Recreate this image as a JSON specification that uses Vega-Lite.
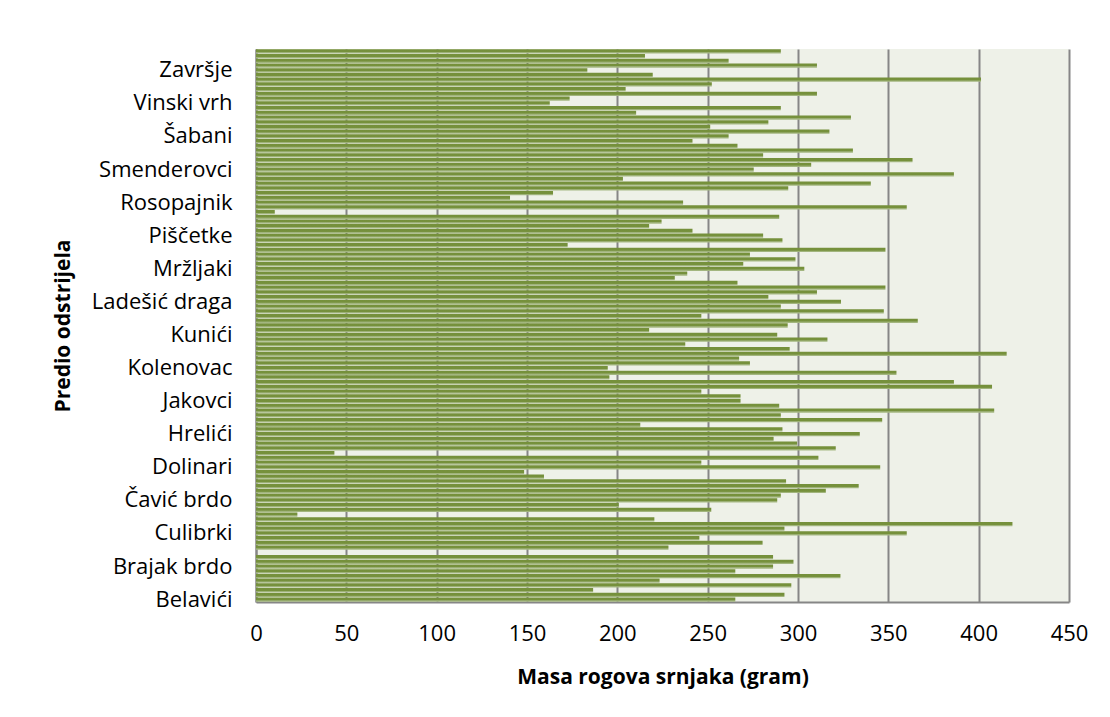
{
  "$schema": "https://vega.github.io/schema/vega-lite/v6.json",
  "autosize": {"type": "none"},
  "padding": {"left": 256, "top": 49, "right": 41, "bottom": 116},
  "width": 813,
  "height": 553,
  "background": "#ffffff",
  "config": {
    "view": {"stroke": null, "fill": "#eef1e8"},
    "font": "Open Sans"
  },
  "data": {
    "values": [
      {"n": 0, "predio": "Belavići", "masa": 265.3},
      {"n": 1, "masa": 292.5},
      {"n": 2, "masa": 186.6},
      {"n": 3, "masa": 296.3},
      {"n": 4, "masa": 223.4},
      {"n": 5, "masa": 323.5},
      {"n": 6, "masa": 265.3},
      {"n": 7, "predio": "Brajak brdo", "masa": 286.2},
      {"n": 8, "masa": 297.5},
      {"n": 9, "masa": 286.2},
      {"n": 10, "masa": 0},
      {"n": 11, "masa": 228.3},
      {"n": 12, "masa": 280.4},
      {"n": 13, "masa": 245.4},
      {"n": 14, "predio": "Culibrki", "masa": 360.2},
      {"n": 15, "masa": 292.5},
      {"n": 16, "masa": 418.7},
      {"n": 17, "masa": 220.5},
      {"n": 18, "masa": 22.9},
      {"n": 19, "masa": 252.0},
      {"n": 20, "masa": 200.8},
      {"n": 21, "predio": "Čavić brdo", "masa": 288.5},
      {"n": 22, "masa": 290.5},
      {"n": 23, "masa": 315.4},
      {"n": 24, "masa": 333.6},
      {"n": 25, "masa": 293.4},
      {"n": 26, "masa": 159.4},
      {"n": 27, "masa": 148.4},
      {"n": 28, "predio": "Dolinari", "masa": 345.5},
      {"n": 29, "masa": 246.5},
      {"n": 30, "masa": 311.3},
      {"n": 31, "masa": 43.4},
      {"n": 32, "masa": 320.9},
      {"n": 33, "masa": 299.5},
      {"n": 34, "masa": 286.5},
      {"n": 35, "predio": "Hrelići", "masa": 334.2},
      {"n": 36, "masa": 291.4},
      {"n": 37, "masa": 212.7},
      {"n": 38, "masa": 346.6},
      {"n": 39, "masa": 290.5},
      {"n": 40, "masa": 408.6},
      {"n": 41, "masa": 289.6},
      {"n": 42, "predio": "Jakovci", "masa": 268.2},
      {"n": 43, "masa": 268.2},
      {"n": 44, "masa": 246.5},
      {"n": 45, "masa": 407.4},
      {"n": 46, "masa": 386.3},
      {"n": 47, "masa": 195.6},
      {"n": 48, "masa": 354.5},
      {"n": 49, "predio": "Kolenovac", "masa": 194.7},
      {"n": 50, "masa": 273.4},
      {"n": 51, "masa": 267.4},
      {"n": 52, "masa": 415.5},
      {"n": 53, "masa": 295.4},
      {"n": 54, "masa": 237.6},
      {"n": 55, "masa": 316.3},
      {"n": 56, "predio": "Kunići", "masa": 288.5},
      {"n": 57, "masa": 217.6},
      {"n": 58, "masa": 294.3},
      {"n": 59, "masa": 366.3},
      {"n": 60, "masa": 246.5},
      {"n": 61, "masa": 347.5},
      {"n": 62, "masa": 290.5},
      {"n": 63, "predio": "Ladešić draga", "masa": 323.8},
      {"n": 64, "masa": 283.6},
      {"n": 65, "masa": 310.5},
      {"n": 66, "masa": 348.4},
      {"n": 67, "masa": 266.5},
      {"n": 68, "masa": 231.8},
      {"n": 69, "masa": 238.7},
      {"n": 70, "predio": "Mržljaki", "masa": 303.5},
      {"n": 71, "masa": 269.7},
      {"n": 72, "masa": 298.6},
      {"n": 73, "masa": 273.4},
      {"n": 74, "masa": 348.4},
      {"n": 75, "masa": 172.5},
      {"n": 76, "masa": 291.4},
      {"n": 77, "predio": "Piščetke", "masa": 280.7},
      {"n": 78, "masa": 241.6},
      {"n": 79, "masa": 217.6},
      {"n": 80, "masa": 224.5},
      {"n": 81, "masa": 289.6},
      {"n": 82, "masa": 10.4},
      {"n": 83, "masa": 360.2},
      {"n": 84, "predio": "Rosopajnik", "masa": 236.4},
      {"n": 85, "masa": 140.6},
      {"n": 86, "masa": 164.4},
      {"n": 87, "masa": 294.6},
      {"n": 88, "masa": 340.3},
      {"n": 89, "masa": 203.1},
      {"n": 90, "masa": 386.3},
      {"n": 91, "predio": "Smenderovci", "masa": 275.5},
      {"n": 92, "masa": 307.3},
      {"n": 93, "masa": 363.4},
      {"n": 94, "masa": 280.7},
      {"n": 95, "masa": 330.4},
      {"n": 96, "masa": 266.5},
      {"n": 97, "masa": 241.6},
      {"n": 98, "predio": "Šabani", "masa": 261.6},
      {"n": 99, "masa": 317.4},
      {"n": 100, "masa": 251.4},
      {"n": 101, "masa": 283.6},
      {"n": 102, "masa": 329.3},
      {"n": 103, "masa": 210.4},
      {"n": 104, "masa": 290.5},
      {"n": 105, "predio": "Vinski vrh", "masa": 162.6},
      {"n": 106, "masa": 173.6},
      {"n": 107, "masa": 310.5},
      {"n": 108, "masa": 204.6},
      {"n": 109, "masa": 252.3},
      {"n": 110, "masa": 401.3},
      {"n": 111, "masa": 219.6},
      {"n": 112, "predio": "Završje", "masa": 183.4},
      {"n": 113, "masa": 310.5},
      {"n": 114, "masa": 261.6},
      {"n": 115, "masa": 215.3},
      {"n": 116, "masa": 290.5}
    ]
  },
  "mark": {
    "type": "bar",
    "color": {
      "gradient": "linear",
      "x1": 0, "y1": 0, "x2": 0, "y2": 1,
      "stops": [
        {"offset": 0, "color": "#75903b"},
        {"offset": 0.62, "color": "#76913c"},
        {"offset": 0.72, "color": "#9aae73"},
        {"offset": 1, "color": "#a7ba85"}
      ]
    }
  },
  "encoding": {
    "y": {
      "field": "n",
      "type": "ordinal",
      "sort": "descending",
      "scale": {"paddingInner": 0.1, "paddingOuter": 0.05},
      "title": "Predio odstrijela",
      "axis": {
        "values": [0, 7, 14, 21, 28, 35, 42, 49, 56, 63, 70, 77, 84, 91, 98, 105, 112],
        "labelExpr": "['Belavići','Brajak brdo','Culibrki','Čavić brdo','Dolinari','Hrelići','Jakovci','Kolenovac','Kunići','Ladešić draga','Mržljaki','Piščetke','Rosopajnik','Smenderovci','Šabani','Vinski vrh','Završje'][floor(datum.value / 7)]",
        "labelFont": "Open Sans",
        "labelFontSize": 22,
        "labelColor": "#000000",
        "labelPadding": 24,
        "ticks": false,
        "domainColor": "#868686",
        "domainWidth": 2,
        "grid": false,
        "titleFont": "Open Sans",
        "titleFontSize": 21,
        "titleFontWeight": "bold",
        "titleColor": "#000000",
        "titlePadding": 18
      }
    },
    "x": {
      "field": "masa",
      "type": "quantitative",
      "scale": {"domain": [0, 450], "nice": false},
      "title": "Masa rogova srnjaka (gram)",
      "axis": {
        "values": [0, 50, 100, 150, 200, 250, 300, 350, 400, 450],
        "labelFont": "Open Sans",
        "labelFontSize": 22,
        "labelFlush": false,
        "labelColor": "#000000",
        "labelPadding": 21,
        "ticks": false,
        "domainColor": "#868686",
        "domainWidth": 2,
        "grid": true,
        "gridColor": "#868686",
        "gridWidth": 2,
        "titleFont": "Open Sans",
        "titleFontSize": 21,
        "titleFontWeight": "bold",
        "titleColor": "#000000",
        "titlePadding": 22
      }
    }
  }
}
